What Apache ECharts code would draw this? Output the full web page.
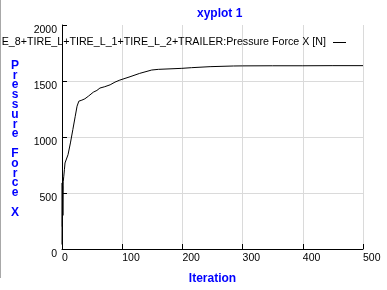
<!DOCTYPE html>
<html>
<head>
<meta charset="utf-8">
<script src="https://cdn.jsdelivr.net/npm/echarts@6/dist/echarts.min.js"></script>
<style>html,body{margin:0;padding:0;background:#fff;}#c{width:387px;height:290px;}</style>
</head>
<body>
<div id="c"></div>
<script>
var titleText = 'xyplot 1';
var seriesName = 'E_8+TIRE_L+TIRE_L_1+TIRE_L_2+TRAILER:Pressure Force X [N]';
var xAxisName = 'Iteration';
var yAxisName = 'Pressure Force X';
var xTicks = [0, 100, 200, 300, 400, 500];
var yTicks = [0, 500, 1000, 1500, 2000];
var iterations = [0, 0.3, 0.6, 1, 1.5, 2, 3, 4, 5, 8, 10, 14, 18, 22, 25, 28, 33, 38, 44, 52, 58, 63, 71, 80, 88, 96, 113, 129, 149, 160, 199, 215, 246, 285, 300, 350, 400, 450, 500];
var forceX = [40, 590, 200, 560, 300, 600, 650, 708, 768, 782, 842, 947, 1066, 1185, 1275, 1320, 1329, 1341, 1365, 1400, 1416, 1437, 1449, 1466, 1490, 1508, 1538, 1568, 1598, 1604, 1613, 1619, 1628, 1634, 1635, 1636, 1636, 1637, 1637];

var font = 'Liberation Sans';
var blue = '#0000ff';
var data = iterations.map(function (x, i) { return [x, forceX[i]]; });
var yNameStacked = yAxisName.split('').map(function (ch) { return ch === ' ' ? '' : ch; }).join('\n');

var chart = echarts.init(document.getElementById('c'), null, {renderer: 'canvas'});
chart.setOption({
  animation: false,
  backgroundColor: '#fff',
  title: {
    text: titleText,
    left: 192, top: 3,
    textStyle: {fontFamily: font, fontSize: 12, fontWeight: 'bold', color: blue}
  },
  legend: {
    data: [seriesName],
    right: 41, top: 37,
    align: 'right',
    itemWidth: 13, itemHeight: 1, itemGap: 4,
    icon: 'rect',
    textStyle: {fontFamily: font, fontSize: 10.7, color: '#000', padding: [0, 2, 0, 0]},
    padding: 0
  },
  graphic: [
    {type: 'line', shape: {x1: 0.5, y1: 0, x2: 0.5, y2: 278}, style: {stroke: '#a8a8a8', lineWidth: 1}},
    {type: 'text', x: 15, y: 139, style: {text: yNameStacked, font: 'bold 12px ' + font, fill: blue, textAlign: 'center', textVerticalAlign: 'middle', lineHeight: 9.8}}
  ],
  grid: {left: 62, right: 24, top: 25, bottom: 41, containLabel: false},
  xAxis: {
    type: 'value', min: xTicks[0], max: xTicks[xTicks.length - 1], interval: 100,
    name: xAxisName, nameLocation: 'middle', nameGap: 24,
    nameTextStyle: {fontFamily: font, fontSize: 12, fontWeight: 'bold', color: blue},
    axisLine: {show: true, lineStyle: {color: '#000', width: 1}},
    axisTick: {show: true, inside: true, length: 5, lineStyle: {color: '#000'}},
    axisLabel: {fontFamily: font, fontSize: 10.5, color: '#000', align: 'left', margin: 4,
      formatter: function (v) { return String(v); }},
    splitLine: {show: true, showMinLine: false, showMaxLine: true, lineStyle: {color: '#dadada', width: 1}}
  },
  yAxis: {
    type: 'value', min: yTicks[0], max: yTicks[yTicks.length - 1], interval: 500,
    axisLine: {show: true, lineStyle: {color: '#000', width: 1}},
    axisTick: {show: true, inside: true, length: 5, lineStyle: {color: '#000'}},
    axisLabel: {fontFamily: font, fontSize: 10.5, color: '#000', align: 'right', verticalAlign: 'top', margin: 5,
      formatter: function (v) { return String(v); }},
    splitLine: {show: true, showMinLine: false, showMaxLine: false, lineStyle: {color: '#dadada', width: 1}}
  },
  series: [{
    name: seriesName,
    type: 'line',
    data: data,
    showSymbol: false,
    symbol: 'none',
    lineStyle: {color: '#000', width: 1},
    itemStyle: {color: '#000'}
  }]
});
</script>
</body>
</html>
